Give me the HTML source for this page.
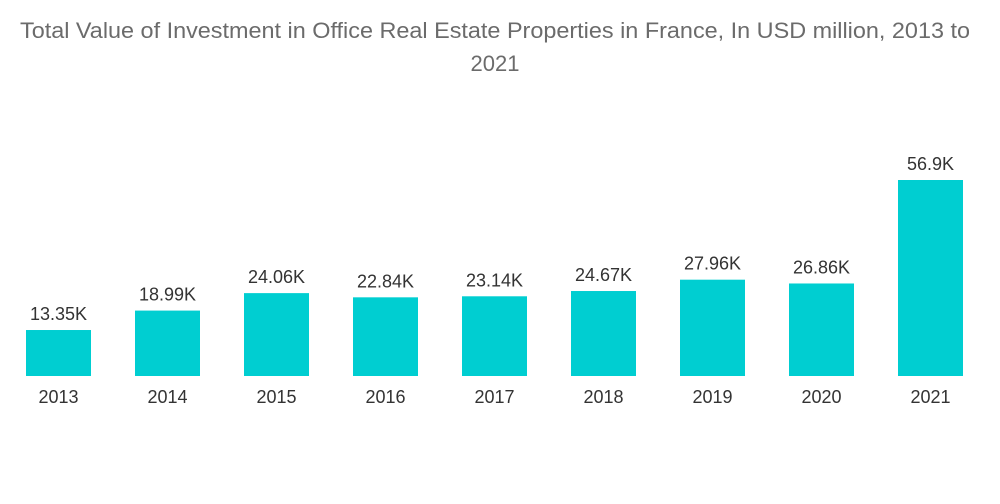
<!DOCTYPE html>
<html><head><meta charset="utf-8">
<style>
html,body{margin:0;padding:0;background:#fff;width:1000px;height:504px;overflow:hidden;}
svg text{font-family:"Liberation Sans",sans-serif;}
</style></head>
<body>
<svg id="chart" width="1000" height="504" viewBox="0 0 1000 504" xmlns="http://www.w3.org/2000/svg">
<text x="20" y="38" textLength="950" lengthAdjust="spacingAndGlyphs" font-size="22" fill="#6b6b6b">Total Value of Investment in Office Real Estate Properties in France, In USD million, 2013 to</text>
<text x="495" y="71" text-anchor="middle" font-size="22" fill="#6b6b6b">2021</text>
<g id="bars"></g>
</svg>
<script>
const categories = ["2013","2014","2015","2016","2017","2018","2019","2020","2021"];
const values = [13.35,18.99,24.06,22.84,23.14,24.67,27.96,26.86,56.9];
const valueLabels = ["13.35K","18.99K","24.06K","22.84K","23.14K","24.67K","27.96K","26.86K","56.9K"];

const baseY = 376, pxPerUnit = 196/56.9;
const x0 = 26, step = 109, barW = 65;
function xScale(i){ return x0 + i*step; }
function yScale(v){ return baseY - v*pxPerUnit; }
const NS = "http://www.w3.org/2000/svg";
const g = document.getElementById("bars");
categories.forEach((c,i)=>{
  const x = xScale(i), y = yScale(values[i]);
  const r = document.createElementNS(NS,"rect");
  
  
  r.setAttribute("x", x); r.setAttribute("y", y);
  r.setAttribute("width", barW); r.setAttribute("height", baseY - y);
  r.setAttribute("fill", "#00ced1");
  g.appendChild(r);
  const t = document.createElementNS(NS,"text");
  
  
  t.setAttribute("x", x + barW/2); t.setAttribute("y", y - 10);
  t.setAttribute("text-anchor","middle"); t.setAttribute("font-size","18"); t.setAttribute("fill","#333");
  t.textContent = valueLabels[i];
  g.appendChild(t);
  const xl = document.createElementNS(NS,"text");
  
  
  xl.setAttribute("x", x + barW/2); xl.setAttribute("y", 403);
  xl.setAttribute("text-anchor","middle"); xl.setAttribute("font-size","18"); xl.setAttribute("fill","#333");
  xl.textContent = c;
  g.appendChild(xl);
});
</script>
</body></html>
